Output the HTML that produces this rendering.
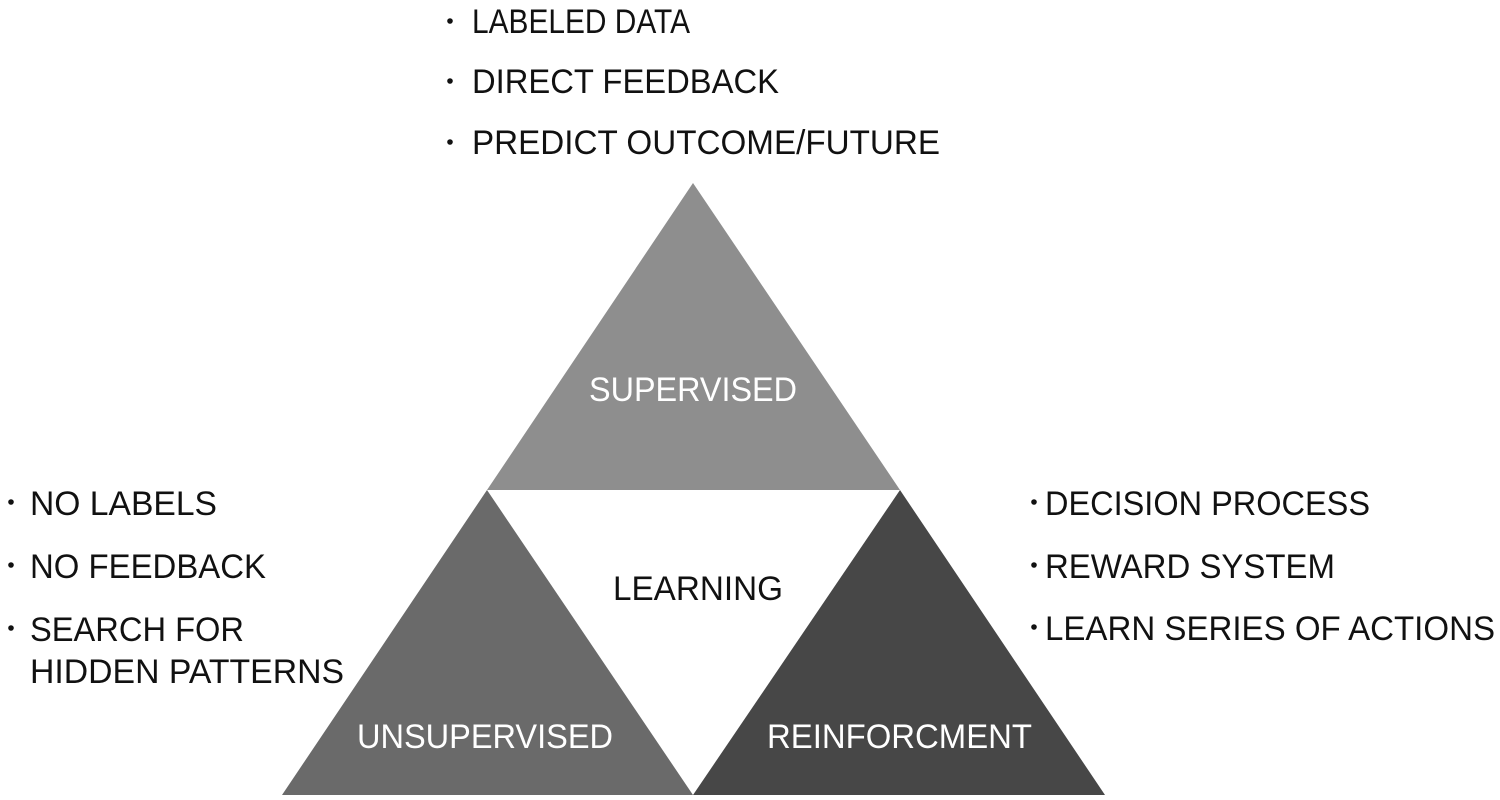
<!DOCTYPE html>
<html><head><style>
html,body{margin:0;padding:0;background:#fff;}
svg{display:block;}
text{font-family:"Liberation Sans",sans-serif;font-size:34px;}
</style></head><body>
<svg width="1500" height="800" xmlns="http://www.w3.org/2000/svg">
<rect width="1500" height="800" fill="#fff"/>
<polygon points="693,183 487,490 900,490" fill="#8e8e8e"/>
<polygon points="487,490 282,795 693,795" fill="#6a6a6a"/>
<polygon points="900,490 693,795 1105,795" fill="#474747"/>
<g fill="#111">
<circle cx="450" cy="21" r="2.8"/>
<text x="472" y="33" textLength="218" lengthAdjust="spacingAndGlyphs">LABELED DATA</text>
<circle cx="450" cy="81" r="2.8"/>
<text x="472" y="93" textLength="307" lengthAdjust="spacingAndGlyphs">DIRECT FEEDBACK</text>
<circle cx="450" cy="142" r="2.8"/>
<text x="472" y="154" textLength="468" lengthAdjust="spacingAndGlyphs">PREDICT OUTCOME/FUTURE</text>

<circle cx="11" cy="502" r="2.8"/>
<text x="30" y="515" textLength="187" lengthAdjust="spacingAndGlyphs">NO LABELS</text>
<circle cx="11" cy="565" r="2.8"/>
<text x="30" y="578" textLength="236" lengthAdjust="spacingAndGlyphs">NO FEEDBACK</text>
<circle cx="11" cy="628" r="2.8"/>
<text x="30" y="641" textLength="214" lengthAdjust="spacingAndGlyphs">SEARCH FOR</text>
<text x="30" y="683" textLength="314" lengthAdjust="spacingAndGlyphs">HIDDEN PATTERNS</text>

<circle cx="1034" cy="502" r="2.8"/>
<text x="1045" y="515" textLength="325" lengthAdjust="spacingAndGlyphs">DECISION PROCESS</text>
<circle cx="1034" cy="565" r="2.8"/>
<text x="1045" y="578" textLength="290" lengthAdjust="spacingAndGlyphs">REWARD SYSTEM</text>
<circle cx="1034" cy="627" r="2.8"/>
<text x="1045" y="640" textLength="450" lengthAdjust="spacingAndGlyphs">LEARN SERIES OF ACTIONS</text>

<text x="613" y="600" textLength="170" lengthAdjust="spacingAndGlyphs">LEARNING</text>
</g>
<g fill="#fff">
<text x="589" y="401" textLength="208" lengthAdjust="spacingAndGlyphs">SUPERVISED</text>
<text x="357" y="748" textLength="256" lengthAdjust="spacingAndGlyphs">UNSUPERVISED</text>
<text x="767" y="748" textLength="265" lengthAdjust="spacingAndGlyphs">REINFORCMENT</text>
</g>
</svg>
</body></html>
